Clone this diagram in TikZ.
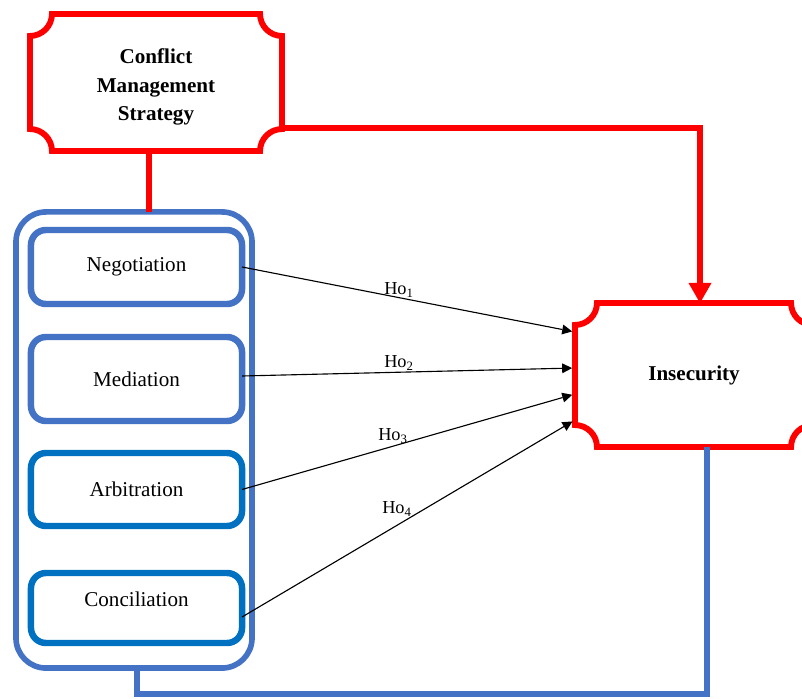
\documentclass[tikz,border=0pt]{standalone}
\usepackage{fontspec}
\setmainfont{Liberation Serif}
\usetikzlibrary{calc,arrows.meta}
\definecolor{plaquered}{HTML}{FF0000}
\definecolor{grpblue}{HTML}{4472C4}
\definecolor{boxblue}{HTML}{0070C0}
\def\plaque(#1)(#2){\draw[redline] ($(#1.north west)+(#2,0)$)--($(#1.north east)-(#2,0)$) arc (180:270:#2)--($(#1.south east)+(0,#2)$) arc (90:180:#2)--($(#1.south west)+(#2,0)$) arc (0:90:#2)--($(#1.north west)-(0,#2)$) arc (270:360:#2)--cycle;}

\begin{document}
\begin{tikzpicture}[x=0.025cm,y=0.025cm,
	redline/.style={draw=plaquered,line width=4.2pt},
	blueline/.style={draw=grpblue,line width=4.2pt},
	plaquenode/.style={outer sep=0pt,inner sep=0pt,align=center,font=\fontsize{15}{20}\selectfont\bfseries},
	itembox/.style={draw=#1,line width=4.6pt,rounded corners=0.375cm,minimum width=5.275cm,outer sep=0pt,font=\fontsize{15}{18}\selectfont},
	hlabel/.style={inner sep=0pt,font=\fontsize{13}{15}\selectfont},
	hypo/.style={-{Triangle[length=0.25cm,width=0.25cm,line width=0pt]},line width=0.8pt,shorten >=2pt}]
	\clip (0,0) rectangle (802,698);
	\fill[white] (0,0) rectangle (802,698);
	
	%PLAQUES
	\node[plaquenode,minimum width=6.3cm,minimum height=3.425cm] (cms) at (156,615.5) {};
	\node[plaquenode] (cmstext) at (156,611) {Conflict\\Management\\Strategy};
	\node[plaquenode,minimum width=5.95cm,minimum height=3.6cm,text depth=3pt] (ins) at (694,323) {Insecurity};
	\plaque(cms)(22)
	\plaque(ins)(22)
	
	%STRATEGIES
	\node[draw=grpblue,line width=4pt,rounded corners=0.75cm,minimum width=5.9cm,minimum height=11.4cm,outer sep=0pt] (grp) at (134,258) {};
	\node[itembox=grpblue,minimum height=1.85cm] (neg) at (136.5,431) {Negotiation};
	\node[itembox=grpblue,minimum height=2.1cm] (med) at (136.5,319) {Mediation};
	\node[itembox=boxblue,minimum height=1.825cm] (arb) at (136.5,208.5) {Arbitration};
	\node[itembox=boxblue,minimum height=1.75cm,text depth=12pt] (con) at (136.5,90) {Conciliation};
	
	%LINKS
	\draw[redline,-{Triangle[length=0.5cm,width=0.575cm,line width=0pt]}] ([yshift=-1.1375cm]cms.east) -| ([xshift=0.15cm]ins.north);
	\draw[redline] ([xshift=-0.175cm]cms.south) -- ([xshift=-0.175cm]cms.south |- grp.north);
	\coordinate (corner) at (707,4);
	\draw[blueline] ([xshift=0.075cm]grp.south) |- (corner) -- (corner |- ins.south);
	
	\draw[hypo] (neg.east) -- ([yshift=1.075cm]ins.west);
	\draw[hypo] ([yshift=0.075cm]med.east) -- ([yshift=0.175cm]ins.west);
	\draw[hypo] (arb.east) -- ([yshift=-0.475cm]ins.west);
	\draw[hypo] ([yshift=-0.225cm]con.east) -- ([yshift=-1.125cm]ins.west);
	
	%LABELS
	\node[hlabel] (h1) at (399,408) {Ho\textsubscript{1}};
	\node[hlabel] (h2) at (399,335) {Ho\textsubscript{2}};
	\node[hlabel] (h3) at (393,262) {Ho\textsubscript{3}};
	\node[hlabel] (h4) at (397,189) {Ho\textsubscript{4}};
\end{tikzpicture}
\end{document}
